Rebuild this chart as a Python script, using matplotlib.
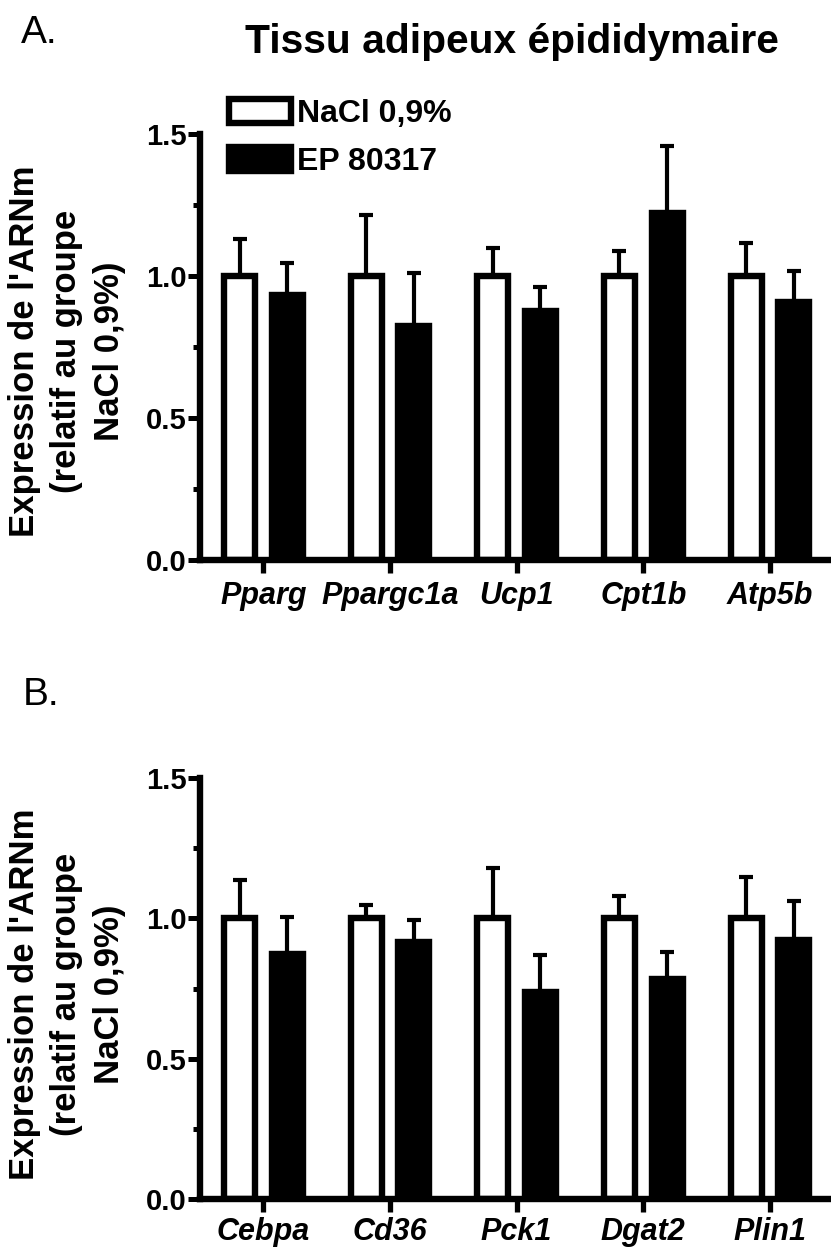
import matplotlib
matplotlib.use("Agg")
import matplotlib.pyplot as plt
import numpy as np
from matplotlib.ticker import FixedLocator

plt.rcParams['font.family'] = ['Liberation Sans', 'DejaVu Sans']

# ---- data ----
groups = ['NaCl 0,9%', 'EP 80317']

genes_a = ['Pparg', 'Ppargc1a', 'Ucp1', 'Cpt1b', 'Atp5b']
nacl_a = [1.0, 1.0, 1.0, 1.0, 1.0]
nacl_a_err = [0.131, 0.216, 0.100, 0.089, 0.118]
ep_a = [0.934, 0.826, 0.878, 1.222, 0.909]
ep_a_err = [0.114, 0.186, 0.083, 0.238, 0.110]

genes_b = ['Cebpa', 'Cd36', 'Pck1', 'Dgat2', 'Plin1']
nacl_b = [1.0, 1.0, 1.0, 1.0, 1.0]
nacl_b_err = [0.136, 0.047, 0.180, 0.080, 0.148]
ep_b = [0.872, 0.915, 0.739, 0.784, 0.923]
ep_b_err = [0.133, 0.077, 0.130, 0.097, 0.139]

yticks = [0.0, 0.5, 1.0, 1.5]
ytick_labels = ['0.0', '0.5', '1.0', '1.5']
yminor = [0.25, 0.75, 1.25]

W, H = 831, 1249
fig = plt.figure(figsize=(W / 100, H / 100), dpi=100)

LW = 4.6
off = 0.188
bw = 0.245
X0 = 200.0


def panel(rect, genes, nacl, nacl_err, ep, ep_err, legend=False, xpad=5.0):
    ax = fig.add_axes(rect)
    x = np.arange(len(genes))
    b1 = ax.bar(x - off, nacl, bw, color='white', edgecolor='black', linewidth=LW, zorder=2)
    b2 = ax.bar(x + off, ep, bw, color='black', edgecolor='black', linewidth=LW, zorder=2)
    ax.errorbar(x - off, nacl, yerr=[np.zeros(len(x)), nacl_err], fmt='none', ecolor='black',
                elinewidth=3.0, capsize=4.8, capthick=3.0, zorder=1)
    ax.errorbar(x + off, ep, yerr=[np.zeros(len(x)), ep_err], fmt='none', ecolor='black',
                elinewidth=3.0, capsize=4.8, capthick=3.0, zorder=1)
    ax.set_xlim(-0.5, 4.483)
    ax.set_ylim(0, 1.5)
    for s in ['top', 'right']:
        ax.spines[s].set_visible(False)
    for s in ['left', 'bottom']:
        ax.spines[s].set_linewidth(LW)
        ax.spines[s].set_capstyle('projecting')
    ax.set_yticks(yticks)
    ax.set_yticklabels(ytick_labels, fontsize=21, fontweight='bold')
    ax.yaxis.set_minor_locator(FixedLocator(yminor))
    ax.tick_params(axis='y', which='major', length=8.5, width=3.6, pad=1)
    ax.tick_params(axis='y', which='minor', length=5, width=3.6)
    ax.set_xticks(x)
    ax.set_xticklabels(genes, fontsize=22, fontweight='bold', fontstyle='italic')
    ax.tick_params(axis='x', which='major', length=9, width=3.8, pad=xpad)
    if legend:
        ax.legend([b1, b2], groups, loc='upper left',
                  bbox_to_anchor=(229 / W, 1 - 99 / H), bbox_transform=fig.transFigure,
                  frameon=False, borderpad=0, borderaxespad=0,
                  handlelength=1.95, handleheight=0.8, handletextpad=0.18,
                  labelspacing=0.55, prop={'size': 23, 'weight': 'bold'})
    return ax


axA = panel([X0 / W, 1 - 560 / H, 1 - X0 / W, (560 - 134.3) / H],
            genes_a, nacl_a, nacl_a_err, ep_a, ep_a_err, legend=True, xpad=6.0)
axB = panel([X0 / W, 1 - 1199.3 / H, 1 - X0 / W, (1199.3 - 777.7) / H],
            genes_b, nacl_b, nacl_b_err, ep_b, ep_b_err, xpad=3.5)

ylab = "Expression de l'ARNm\n(relatif au groupe\nNaCl 0,9%)"
fig.text(67 / W, 1 - 351 / H, ylab, rotation=90, ha='center', va='center',
         multialignment='center', fontsize=25, fontweight='bold', linespacing=1.35)
fig.text(67 / W, 1 - 994 / H, ylab, rotation=90, ha='center', va='center',
         multialignment='center', fontsize=25, fontweight='bold', linespacing=1.35)

fig.text(511.5 / W, 1 - 53 / H, 'Tissu adipeux épididymaire', ha='center', va='baseline',
         fontsize=29.3, fontweight='bold')
fig.text(21 / W, 1 - 43 / H, 'A.', ha='left', va='baseline', fontsize=28)
fig.text(23 / W, 1 - 705 / H, 'B.', ha='left', va='baseline', fontsize=28)

fig.savefig('out.png', dpi=100)
